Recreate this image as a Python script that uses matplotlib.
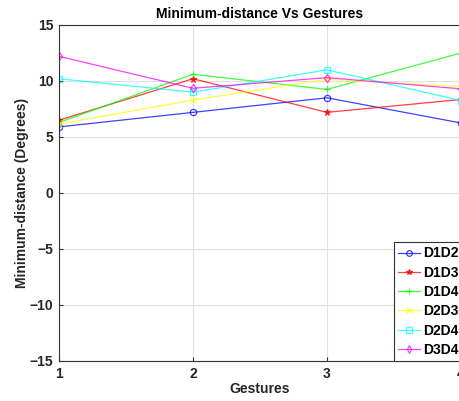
import numpy as np
import matplotlib
matplotlib.use('Agg')
import matplotlib.pyplot as plt

plt.rcParams['font.family'] = ['Liberation Sans', 'DejaVu Sans']

gestures = [1, 2, 3, 4]
d1d2 = [5.9, 7.2, 8.5, 6.25]
d1d3 = [6.5, 10.2, 7.2, 8.35]
d1d4 = [6.3, 10.6, 9.25, 12.5]
d2d3 = [6.15, 8.3, 10.15, 9.5]
d2d4 = [10.2, 9.0, 11.0, 8.25]
d3d4 = [12.2, 9.35, 10.3, 9.3]

series = [('D1D2', d1d2, '#0000ff', 'o'),
          ('D1D3', d1d3, '#ff0000', '*'),
          ('D1D4', d1d4, '#00ff00', '+'),
          ('D2D3', d2d3, '#ffff00', 'x'),
          ('D2D4', d2d4, '#00ffff', 's'),
          ('D3D4', d3d4, '#ff00ff', 'd')]

fig = plt.figure(figsize=(4.59, 4.01), dpi=100)
ax = fig.add_axes([59/459, 40/401, 402/459, 336/401])

for name, vals, col, mk in series:
    ax.plot(gestures, vals, color=col, marker=mk, markersize=4.5, lw=0.9,
            markerfacecolor='none' if mk in 'osd' else col,
            markeredgewidth=0.9, label=name, alpha=0.75)

ax.set_xlim(1, 4)
ax.set_ylim(-15, 15)
ax.set_xticks([1, 2, 3, 4])
ax.set_yticks(np.arange(-15, 16, 5))
ax.grid(True, color='#e0e0e0', lw=0.8)
ax.set_axisbelow(True)
for s in ax.spines.values():
    s.set_color('#333333')
    s.set_linewidth(0.8)
ax.tick_params(direction='in', length=3, colors='#333333', labelsize=10, pad=4)
for lab in ax.get_xticklabels() + ax.get_yticklabels():
    lab.set_fontweight('bold')
    lab.set_color('#262626')

ax.set_title('Minimum-distance Vs Gestures', fontsize=10, fontweight='bold', pad=5)
ax.set_xlabel('Gestures', fontsize=10, fontweight='bold', labelpad=1, color='#262626')
ax.set_ylabel('Minimum-distance (Degrees)', fontsize=10, fontweight='bold', labelpad=0.5, color='#262626')

leg = ax.legend(loc='lower left', bbox_to_anchor=((394-59)/402, 0.0),
                fancybox=False, framealpha=1, edgecolor='#333333',
                prop={'weight': 'bold', 'size': 10}, borderaxespad=0,
                handlelength=1.6, handletextpad=0.2, labelspacing=0.38,
                borderpad=0.3, markerscale=0.9)
leg.get_frame().set_linewidth(0.8)

fig.savefig('out.png', dpi=100)
